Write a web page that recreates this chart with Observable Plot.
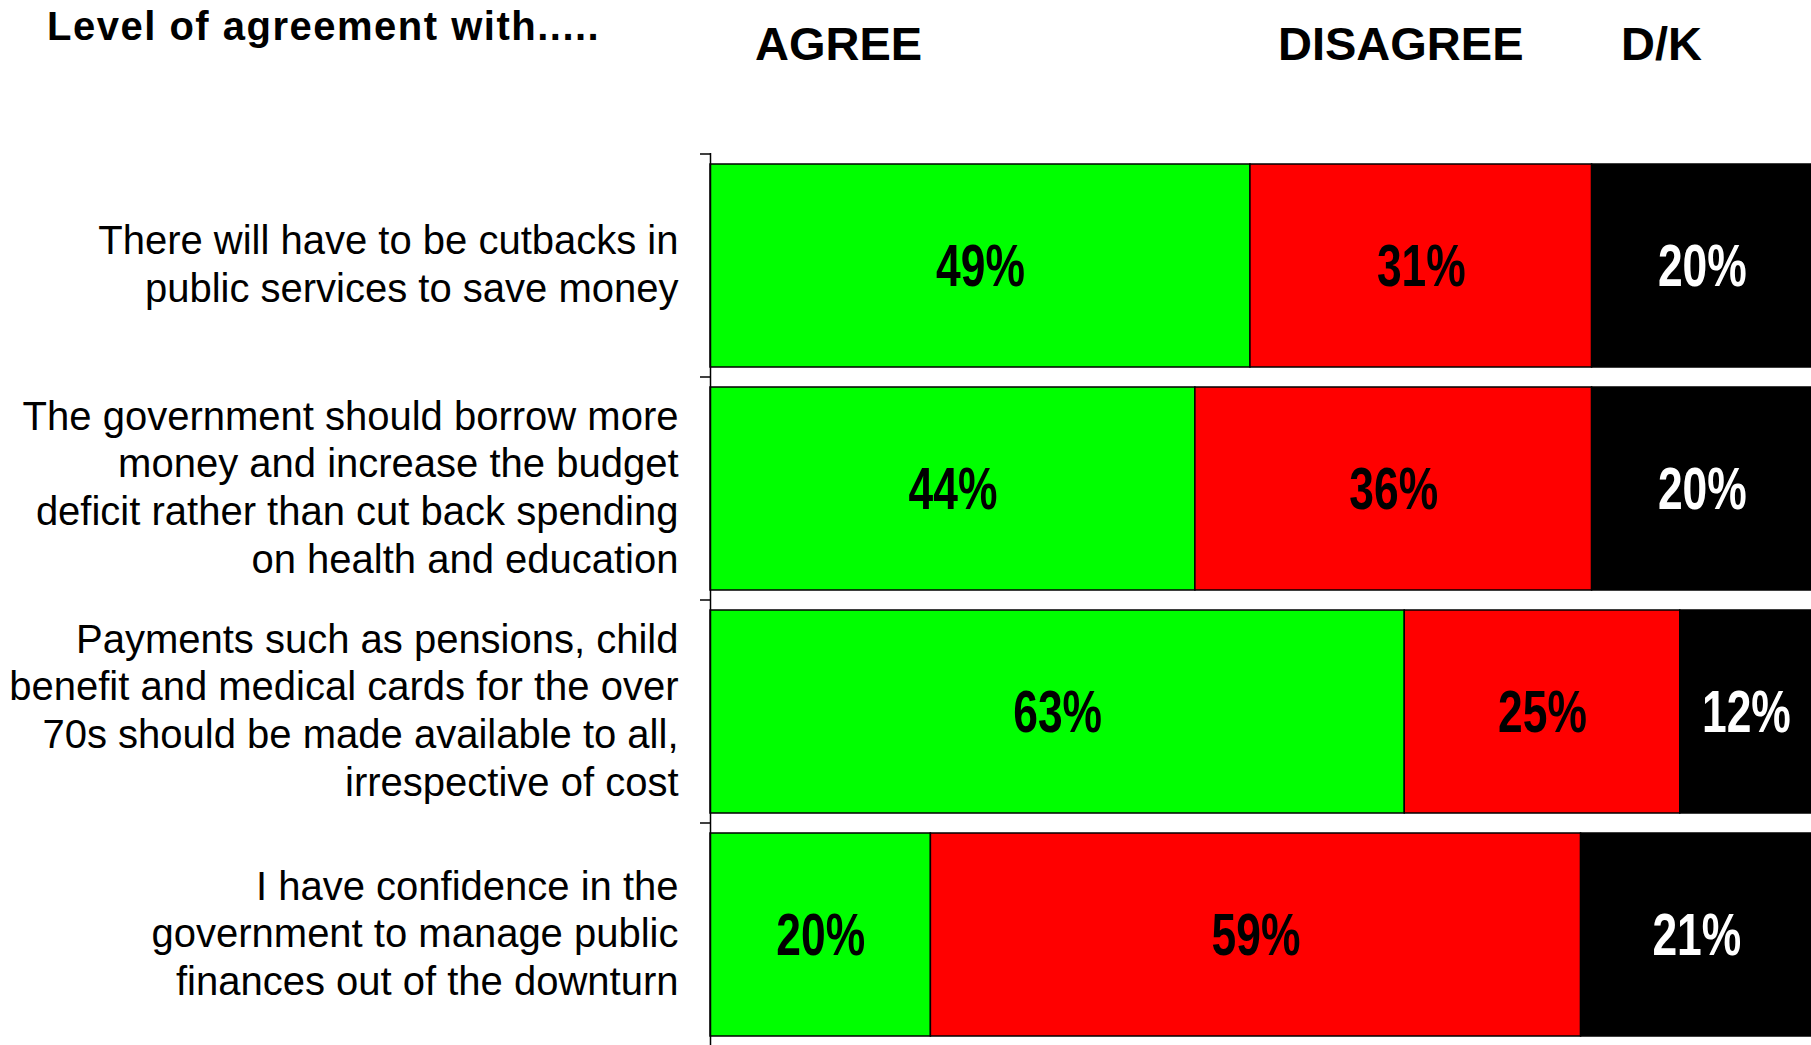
<!DOCTYPE html>
<html>
<head>
<meta charset="utf-8">
<script src="https://cdn.jsdelivr.net/npm/d3@7"></script>
<script src="https://cdn.jsdelivr.net/npm/@observablehq/plot@0.6"></script>
<style>
  body { margin: 0; background: #fff; }
  #header { position: relative; height: 150px; font-family: "Liberation Sans", Arial, Helvetica, sans-serif; font-weight: bold; color: #000; }
  #header div { position: absolute; line-height: 1; white-space: nowrap; }
  #title { left: 47px; top: 6px; font-size: 40px; letter-spacing: 1.5px; }
  #h0 { left: 755px; top: 20px; font-size: 47px; }
  #h1 { left: 1278px; top: 20px; font-size: 47px; }
  #h2 { left: 1621px; top: 20px; font-size: 47px; }
  #chart svg { display: block; }
</style>
</head>
<body>
<div id="header">
  <div id="title"></div>
  <div id="h0"></div>
  <div id="h1"></div>
  <div id="h2"></div>
</div>
<div id="chart"></div>
<script>
const title = "Level of agreement with.....";
const questions = [
  "There will have to be cutbacks in\npublic services to save money",
  "The government should borrow more\nmoney and increase the budget\ndeficit rather than cut back spending\non health and education",
  "Payments such as pensions, child\nbenefit and medical cards for the over\n70s should be made available to all,\nirrespective of cost",
  "I have confidence in the\ngovernment to manage public\nfinances out of the downturn"
];
const responses = ["AGREE", "DISAGREE", "D/K"];
const agree = [49, 44, 63, 20];
const disagree = [31, 36, 25, 59];
const dontKnow = [20, 20, 12, 21];
const barColors = ["#00ff00", "#ff0000", "#000000"];
const labelColors = ["#000000", "#000000", "#ffffff"];

document.getElementById("title").textContent = title;
responses.forEach((r, i) => document.getElementById("h" + i).textContent = r);

const series = [agree, disagree, dontKnow];
const rows = [];
questions.forEach((q, qi) => {
  series.forEach((s, ri) => {
    rows.push({q, resp: responses[ri], value: s[qi], color: barColors[ri], labelColor: labelColors[ri]});
  });
});

const tickMarks = (index, scales) => {
  const y = scales.y;
  const bw = y.bandwidth();
  const step = y.step();
  const gap = (step - bw) / 2;
  const x0 = scales.x(0);
  const ys = questions.map(q => y(q) - gap).concat([y(questions[questions.length - 1]) + bw + gap]);
  const g = d3.create("svg:g").attr("stroke", "#000").attr("stroke-width", 1.5);
  ys.forEach(v => g.append("line").attr("x1", x0 - 10).attr("x2", x0).attr("y1", v).attr("y2", v));
  return g.node();
};

const chart = Plot.plot({
  width: 1811,
  height: 895,
  marginTop: 3,
  marginBottom: 0,
  marginLeft: 710,
  marginRight: 0,
  style: { background: "#fff", overflow: "hidden" },
  x: { domain: [0, 100], range: [710, 1812], axis: null },
  y: { domain: questions, range: [3, 896], paddingInner: 0.09, paddingOuter: 0.045, axis: null },
  color: { type: "identity" },
  marks: [
    Plot.barX(rows, Plot.stackX({ x: "value", y: "q", fill: "color", stroke: "#000", strokeWidth: 1.5 })),
    Plot.text(rows, Plot.stackX({
      x: "value", y: "q", text: d => d.value + "%", fill: "labelColor",
      fontSize: 60, fontWeight: "bold", dy: 1,
      fontFamily: "'Liberation Sans', Arial, sans-serif"
    })),
    Plot.text(questions, {
      x: 0, y: d => d, text: d => d, textAnchor: "end", dx: -32, dy: -3,
      fontSize: 40, lineHeight: 1.19, fill: "#000",
      fontFamily: "'Liberation Sans', Arial, Helvetica, sans-serif"
    }),
    Plot.ruleX([0], { stroke: "#000", strokeWidth: 1.5 }),
    tickMarks
  ]
});
// condensed look for the percentage labels (the original uses a narrow bold face)
d3.select(chart).selectAll("text").filter(function () { return /%$/.test(this.textContent); })
  .attr("transform", function () { return (this.getAttribute("transform") || "") + " scale(0.74,1)"; });
document.getElementById("chart").appendChild(chart);
</script>
</body>
</html>
